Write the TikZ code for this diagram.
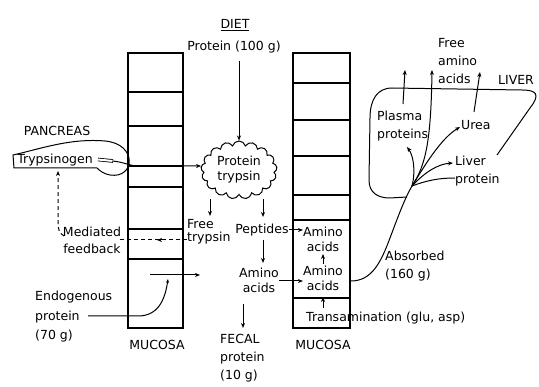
\documentclass[tikz,border=0pt]{standalone}
\usepackage{fontspec}
\newfontfamily\lettering{DejaVu Sans}
\usetikzlibrary{shapes.symbols,arrows.meta,calc}
\begin{document}
\begin{tikzpicture}[x=1pt,y=-1pt,
  lbl/.style={font=\lettering\fontsize{12.5}{15}\selectfont, inner sep=0pt, align=left},
  box/.style={draw, line width=1.1pt, inner sep=0pt},
  ln/.style={line width=1pt},
  arr/.style={line width=1pt, -{Stealth[length=5pt,width=4pt]}},
  fb/.style={line width=1pt, dash pattern=on 4pt off 3pt}]
\useasboundingbox (0,0) rectangle (539,387);

% mucosa columns
\node[box, minimum width=55pt, minimum height=275pt] (colL) at (155.5,190.5) {};
\node[box, minimum width=57pt, minimum height=275pt] (colR) at (321.5,190.5) {};
\foreach \y in {92,126,166,187,229,259}
  \draw[line width=1.1pt] (colL.west |- 0,\y) -- (colL.east |- 0,\y);
\foreach \y in {83,120,156,195,220,298}
  \draw[line width=1.1pt] (colR.west |- 0,\y) -- (colR.east |- 0,\y);

% labels
\node[lbl] (mucL) at (157,345) {MUCOSA};
\node[lbl] (mucR) at (323,345) {MUCOSA};
\node[lbl] (diet) at (235,25) {\underline{DIET}};
\node[lbl] (prot) at (234,47) {Protein (100 g)};
\node[cloud, draw, line width=1pt, cloud puffs=17, aspect=1.4, inner sep=0pt,
      minimum width=76pt, minimum height=58pt, lbl, align=center] (cloud) at (239,170) {Protein\\trypsin};
\node[lbl, anchor=west, font=\lettering\fontsize{12.5}{13}\selectfont] (free) at (187,232) {Free\\trypsin};
\node[lbl] (pept) at (262,230) {Peptides};
\node[lbl, align=center] (aaL) at (259,280) {Amino\\acids};
\node[lbl, anchor=west, font=\lettering\fontsize{12.5}{18}\selectfont] (fecal) at (220,358) {FECAL\\protein\\(10 g)};
\node[lbl] (panc) at (57,131) {PANCREAS};
\node[lbl] (tryg) at (55,160) {Trypsinogen};
\node[lbl, align=center, font=\lettering\fontsize{12.5}{17}\selectfont] (med) at (92,240) {Mediated\\feedback};
\node[lbl, anchor=west, font=\lettering\fontsize{12.5}{19.5}\selectfont] (endo) at (35,317) {Endogenous\\protein\\(70 g)};
\node[lbl, align=center] (aaR1) at (323,239) {Amino\\acids};
\node[lbl, align=center] (aaR2) at (323,278) {Amino\\acids};
\node[lbl, anchor=west] (trans) at (306,318) {Transamination (glu, asp)};
\node[lbl, anchor=west, font=\lettering\fontsize{12.5}{18}\selectfont] (abs) at (385,266) {Absorbed\\(160 g)};
\node[lbl, anchor=west, font=\lettering\fontsize{12.5}{18}\selectfont] (plasma) at (377,126) {Plasma\\proteins};
\node[lbl, anchor=west, font=\lettering\fontsize{12.5}{18}\selectfont] (faa) at (438,61) {Free\\amino\\acids};
\node[lbl] (liverl) at (516,80) {LIVER};
\node[lbl, anchor=west] (urea) at (461,125) {Urea};
\node[lbl, anchor=west, font=\lettering\fontsize{12.5}{18}\selectfont] (lprot) at (455,171) {Liver\\protein};

% pancreas outline
\draw[ln] (97,168) -- (14,168) -- (13,155)
  .. controls (40,149) and (70,138) .. (105,141)
  .. controls (138,144) and (135,179) .. (110,175)
  .. controls (104,174) and (100,171) .. (97,168);

% liver outline
\draw[ln] (497,155) -- (530,108) .. controls (541,94) and (536,90) .. (522,90)
  -- (392,88) .. controls (377,88) and (370,100) .. (370,118)
  -- (369,180) .. controls (369,193) and (378,198) .. (390,198) -- (407,197);

% connectors
\draw[arr] ([yshift=-8pt]prot.south -| cloud.north) -- (cloud.north);
\draw[arr] (210,199) -- (210,216);
\draw[arr] (263,199) -- (263,217);
\draw[arr] (263,240) -- (263,263);
\draw[arr] (243,304) -- (243,328);
\draw[arr] (pept.east) -- (pept.east -| aaR1.west);
\draw[arr] ([yshift=-1pt]aaL.east) -- ([yshift=-1pt]aaL.east -| aaR2.west);
\draw[arr] (323,264) -- (323,254);
\draw[arr] (323,308) -- (323,297);

% trypsinogen to cloud
\draw[line width=0.8pt, double, double distance=2pt] (98,159.5) -- (113,161);
\draw[arr] (112,161) .. controls (125,162) and (128,166) .. (140,166) -- (201,166);

% feedback
\draw[fb] (free.west |- 0,240) -- (118,240);
\draw[arr] (166,240) -- (157,240);
\draw[fb, -{Stealth[length=5pt,width=4pt]}] (64,236) .. controls (59,233) and (58,229) .. (58,222) -- (58,171);

% endogenous protein
\draw[line width=1pt, -{Stealth[length=4pt,width=3pt]}] (88,316) -- (138,316) .. controls (158,316) and (165,300) .. (168,279);
\draw[arr] (150,275) -- (200,275);

% absorbed and liver branches
\coordinate (J) at (412,186);
\draw[ln] (351,281) .. controls (372,281) and (381,262) .. (390,238) .. controls (399,214) and (405,198) .. (J);
\draw[arr] (J) .. controls (416,170) and (413,155) .. (407,147);
\draw[arr] (J) .. controls (426,165) and (431,140) .. (432,70);
\draw[arr] (J) .. controls (428,160) and (442,138) .. (460,127);
\draw[arr] (J) .. controls (425,172) and (438,164) .. (453,163);
\draw[ln] (J) .. controls (428,180) and (440,178) .. (455,178);
\draw[arr] (403,104) -- (405,70);
\draw[arr] (474,112) -- (480,72);
\end{tikzpicture}
\end{document}
